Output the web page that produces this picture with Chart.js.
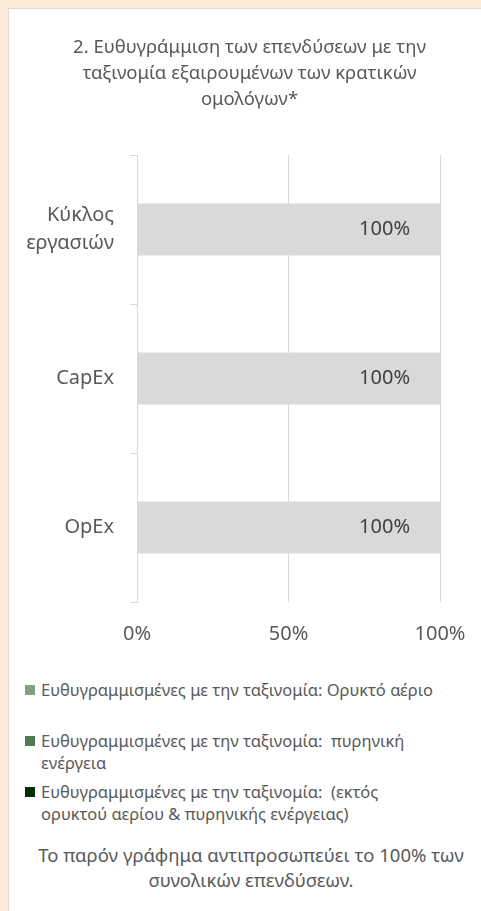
<!DOCTYPE html>
<html>
<head>
<meta charset="utf-8">
<script src="https://cdn.jsdelivr.net/npm/chart.js@4"></script>
<style>
  html, body { margin: 0; padding: 0; }
  body { width: 481px; height: 911px; background: #fce9d7; position: relative; overflow: hidden; font-family: "Noto Sans", sans-serif; }
  #panel { position: absolute; left: 8px; top: 8px; right: 0; bottom: 0; background: #fff; border-left: 1px solid #dcdcdc; border-top: 1px solid #dcdcdc; }
  #wrap { position: absolute; left: 0; top: 0; width: 481px; height: 660px; }
  #legend { position: absolute; left: 25px; top: 679px; width: 450px; margin: 0; padding: 0; list-style: none; color: #595959; font-size: 16.5px; line-height: 22px; }
  #legend li { display: flex; align-items: flex-start; margin-bottom: 7px; }
  #legend li:first-child { margin-bottom: 29px; }
  #legend .box { flex: none; width: 10px; height: 10px; margin: 6px 6px 0 0; }
  #legend .txt { white-space: pre; }
  #note { position: absolute; left: 21px; top: 842px; width: 460px; text-align: center; color: #595959; font-size: 18.5px; line-height: 25px; }
</style>
</head>
<body>
<div id="panel"></div>
<div id="wrap"><canvas id="myChart"></canvas></div>
<ul id="legend"></ul>
<div id="note">Το παρόν γράφημα αντιπροσωπεύει το 100% των<br>συνολικών επενδύσεων.</div>
<script>
const categories = [['Κύκλος', 'εργασιών'], 'CapEx', 'OpEx'];
const seriesNames = [
    ['Ευθυγραμμισμένες με την ταξινομία: Ορυκτό αέριο'],
    ['Ευθυγραμμισμένες με την ταξινομία:  πυρηνική', 'ενέργεια'],
    ['Ευθυγραμμισμένες με την ταξινομία:  (εκτός', 'ορυκτού αερίου & πυρηνικής ενέργειας)'],
    ['Μη ευθυγραμμισμένες με την ταξινομία'],
];
const gasAligned = [0, 0, 0];
const nuclearAligned = [0, 0, 0];
const otherAligned = [0, 0, 0];
const notAligned = [100, 100, 100];
const xTicks = [0, 50, 100];

const titleLines = ['2. Ευθυγράμμιση των επενδύσεων με την', 'ταξινομία εξαιρουμένων των κρατικών', 'ομολόγων*'];

// labels drawn inside the grey bars
const barValueLabels = {
    id: 'barValueLabels',
    afterDatasetsDraw(chart) {
        const ctx = chart.ctx;
        chart.data.datasets.forEach((ds, i) => {
            if (!ds.showValue) return;
            chart.getDatasetMeta(i).data.forEach((bar, j) => {
                const v = ds.data[j];
                if (!v) return;
                ctx.save();
                ctx.font = '20px "Noto Sans"';
                ctx.fillStyle = '#404040';
                ctx.textAlign = 'right';
                ctx.textBaseline = 'middle';
                ctx.fillText(v + '%', bar.x - 30, bar.y);
                ctx.restore();
            });
        });
    }
};

// legend outside the canvas so the long labels can wrap
const htmlLegend = {
    id: 'htmlLegend',
    afterUpdate(chart) {
        const ul = document.getElementById('legend');
        ul.innerHTML = '';
        const items = Chart.defaults.plugins.legend.labels.generateLabels(chart)
            .filter(item => chart.data.datasets[item.datasetIndex].inLegend);
        items.forEach(item => {
            const li = document.createElement('li');
            const box = document.createElement('span');
            box.className = 'box';
            box.style.background = item.fillStyle;
            const txt = document.createElement('span');
            txt.className = 'txt';
            txt.textContent = [].concat(item.text).join('\n');
            li.appendChild(box);
            li.appendChild(txt);
            ul.appendChild(li);
        });
    }
};

const ctx = document.getElementById('myChart').getContext('2d');
new Chart(ctx, {
    type: 'bar',
    data: {
        labels: categories,
        datasets: [
            { label: seriesNames[0], data: gasAligned, backgroundColor: '#80a080', inLegend: true },
            { label: seriesNames[1], data: nuclearAligned, backgroundColor: '#507a52', inLegend: true },
            { label: seriesNames[2], data: otherAligned, backgroundColor: '#003300', inLegend: true },
            { label: seriesNames[3], data: notAligned, backgroundColor: '#d9d9d9', showValue: true },
        ],
    },
    plugins: [barValueLabels, htmlLegend],
    options: {
        indexAxis: 'y',
        responsive: true,
        maintainAspectRatio: false,
        animation: false,
        datasets: {
            bar: { barPercentage: 0.35, categoryPercentage: 1, borderWidth: 0 }
        },
        layout: { padding: { left: 18, right: 0, top: 0, bottom: 0 } },
        plugins: {
            legend: { display: false },
            tooltip: { enabled: false },
            title: {
                display: true,
                text: titleLines,
                color: '#595959',
                font: { family: 'Noto Sans', size: 18.5, weight: 'normal', lineHeight: '26px' },
                padding: { top: 35, bottom: 42 },
            },
        },
        scales: {
            x: {
                stacked: true,
                min: 0,
                max: 100,
                afterFit: (scale) => { scale.height = 58; scale.paddingRight = 41; },
                afterBuildTicks: (scale) => { scale.ticks = xTicks.map(v => ({ value: v })); },
                border: { display: false },
                grid: { color: '#d9d9d9', drawTicks: false },
                ticks: {
                    padding: 20,
                    color: '#595959',
                    font: { family: 'Noto Sans', size: 20 },
                    callback: (value) => value + '%',
                },
            },
            y: {
                stacked: true,
                afterFit: (scale) => { scale.width = 119; },
                border: { display: true, color: '#d9d9d9' },
                grid: { drawOnChartArea: false, offset: true, tickLength: 7, color: '#d9d9d9' },
                ticks: {
                    padding: 16,
                    color: '#595959',
                    font: { family: 'Noto Sans', size: 20, lineHeight: 1.4 },
                },
            },
        },
    },
});
</script>
</body>
</html>
